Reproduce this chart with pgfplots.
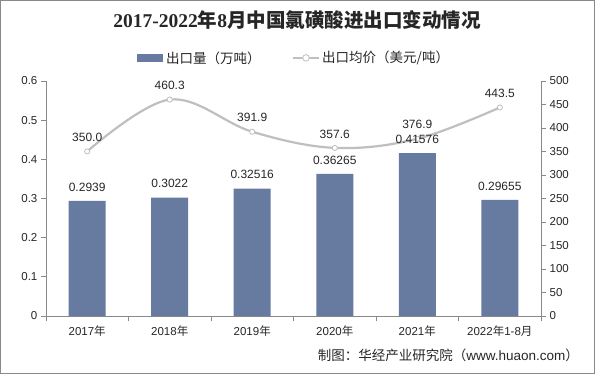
\documentclass[border=0pt]{standalone}
\usepackage{pgfplots}
\pgfplotsset{compat=1.18}
\usepackage{fontspec}
\setmainfont{Liberation Sans}
\newfontfamily\cjk{Noto Sans CJK SC}
\newfontfamily\serif{Liberation Serif}
\definecolor{barc}{RGB}{103,122,160}
\definecolor{linec}{RGB}{191,191,191}
\definecolor{axc}{RGB}{137,137,137}
\definecolor{txt}{RGB}{38,38,38}
\begin{document}
\begin{tikzpicture}[x=1pt,y=1pt]
\draw[axc,line width=0.8pt] (0.5,0.5) rectangle (594.5,373.5);
\node[font=\fontsize{19.5}{22}\selectfont\bfseries,text=txt] at (297,354) {\serif 2017-2022{\cjk 年}8{\cjk 月中国氯磺酸进出口变动情况}};
% legend
\fill[barc] (137,312) rectangle (163,320);
\node[anchor=west,font=\fontsize{13.5}{15}\selectfont\cjk,text=txt,inner sep=1pt] at (165,316) {出口量（万吨）};
\draw[linec,line width=2.2pt] (293,316) -- (319,316);
\draw[linec,fill=white,line width=0.8pt] (306,316) circle (3.3);
\node[anchor=west,font=\fontsize{13.5}{15}\selectfont\cjk,text=txt,inner sep=1pt] at (321,316) {出口均价（美元/吨）};
% source
\node[anchor=east,font=\fontsize{13.5}{15}\selectfont,text=txt,inner sep=1pt] at (580,19) {{\cjk 制图：华经产业研究院（}www.huaon.com{\cjk ）}};
\begin{axis}[
  at={(46pt,58pt)}, anchor=south west,
  width=495pt, height=235pt, scale only axis,
  xmin=-0.5, xmax=5.5, ymin=0, ymax=500,
  axis y line*=right, axis x line=none,
  axis line style={axc, line width=0.8pt},
  ytick={0,50,...,500},
  y tick style={axc, line width=0.8pt},
  major tick length=5pt,
  tick align=outside,
  ticklabel style={font=\fontsize{11.5}{13}\selectfont, text=txt},
  /pgf/number format/assume math mode=true,
  clip=false,
]
\addplot[linec, line width=2.2pt, smooth, tension=0.6, mark=*,
  mark options={fill=white, draw=linec, line width=0.8pt, scale=1.3},
  nodes near coords, point meta=explicit symbolic,
  every node near coord/.append style={font=\fontsize{12}{14}\selectfont, text=txt, yshift=6pt}]
  coordinates {(0,350.0)[350.0] (1,460.3)[460.3] (2,391.9)[391.9] (3,357.6)[357.6] (4,376.9)[376.9] (5,443.5)[443.5]};
\end{axis}
\begin{axis}[
  at={(46pt,58pt)}, anchor=south west,
  width=495pt, height=235pt, scale only axis,
  xmin=-0.5, xmax=5.5, ymin=0, ymax=0.6,
  axis y line*=left, axis x line*=bottom,
  axis line style={axc, line width=0.8pt},
  xtick={0,...,5},
  xticklabels={2017{\cjk 年},2018{\cjk 年},2019{\cjk 年},2020{\cjk 年},2021{\cjk 年},2022{\cjk 年}1-8{\cjk 月}},
  major x tick style={draw=none},
  minor xtick={-0.5,0.5,1.5,2.5,3.5,4.5,5.5},
  minor x tick style={axc, line width=0.8pt},
  minor tick length=5pt,
  ytick={0,0.1,...,0.6},
  yticklabels={0,0.1,0.2,0.3,0.4,0.5,0.6},
  y tick style={axc, line width=0.8pt},
  major tick length=5pt,
  tick align=outside,
  ticklabel style={font=\fontsize{11.5}{13}\selectfont, text=txt},
  xticklabel style={yshift=-1pt},
  /pgf/number format/assume math mode=true,
  clip=false,
]
\addplot[ybar, bar width=37pt, fill=barc, draw=none,
  nodes near coords, point meta=explicit symbolic,
  every node near coord/.append style={font=\fontsize{12}{14}\selectfont, text=txt, yshift=6pt}]
  coordinates {(0,0.2939)[0.2939] (1,0.3022)[0.3022] (2,0.32516)[0.32516] (3,0.36265)[0.36265] (4,0.41576)[0.41576] (5,0.29655)[0.29655]};
\end{axis}
\end{tikzpicture}
\end{document}
